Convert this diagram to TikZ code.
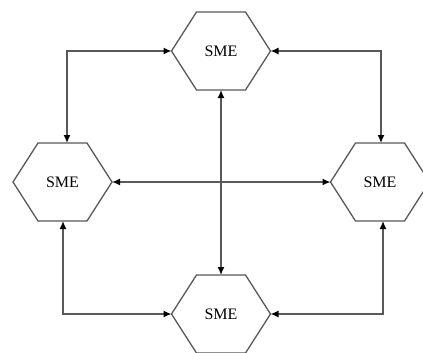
\documentclass[tikz,border=0pt]{standalone}
\usepackage{fontspec}
\setmainfont{Liberation Serif}
\usetikzlibrary{calc,arrows.meta}

\tikzset{
  sme/.style={minimum width=99pt, minimum height=78pt, inner sep=0pt, outer sep=0pt,
              font=\fontsize{16}{18}\selectfont},
  hexline/.style={draw=black!65, line width=1.3pt, line join=miter},
  link/.style={draw=black!65, line width=1.4pt,
               {Latex[length=8pt,width=7pt,black]}-{Latex[length=8pt,width=7pt,black]}}
}

% outline of a flat-topped hexagon around a named node
\newcommand{\hexaround}[1]{%
  \draw[hexline] (#1.west)
    -- ($(#1.north west)+(25pt,0)$) -- ($(#1.north east)+(-25pt,0)$)
    -- (#1.east)
    -- ($(#1.south east)+(-25pt,0)$) -- ($(#1.south west)+(25pt,0)$)
    -- cycle;}

\begin{document}
\begin{tikzpicture}[x=1pt,y=-1pt]
  \useasboundingbox (0,0) rectangle (423,353);
  \clip (0,0) rectangle (423,353);
  \fill[white] (0,0) rectangle (423,353);

  \node[sme] (T) at (221,51)  {SME};
  \node[sme] (L) at (62.5,182) {SME};
  \node[sme] (R) at (380,182) {SME};
  \node[sme] (B) at (221,314) {SME};

  \hexaround{T}
  \hexaround{L}
  \hexaround{R}
  \hexaround{B}

  \draw[link] ($(L.north)+(4.5,0)$) |- (T.west);
  \draw[link] (T.east) -| ($(R.north)+(1,0)$);
  \draw[link] ($(L.south)+(0.5,0)$) |- (B.west);
  \draw[link] (B.east) -| ($(R.south)+(3,0)$);
  \draw[link] (L.east) -- (R.west);
  \draw[link] (T.south) -- (B.north);
\end{tikzpicture}
\end{document}
